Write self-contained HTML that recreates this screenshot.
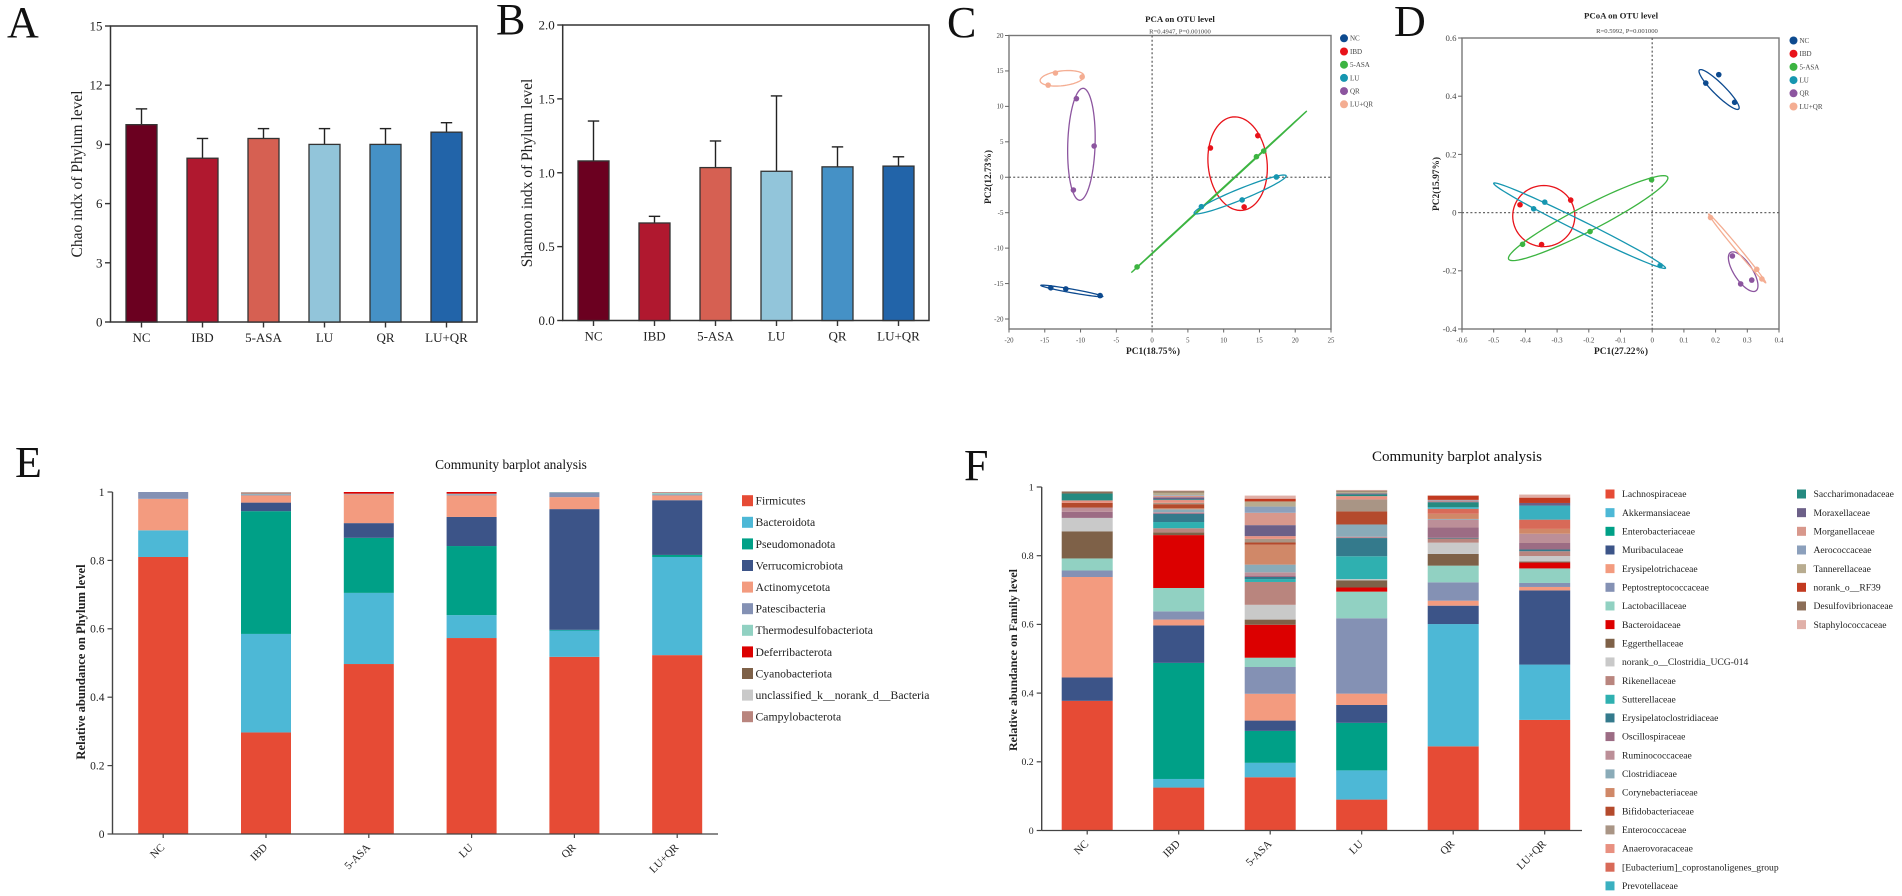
<!DOCTYPE html>
<html lang="en">
<head>
<meta charset="utf-8">
<title>Gut microbiota diversity and community composition</title>
<style>
html,body{margin:0;padding:0;background:#fff;width:1902px;height:896px;overflow:hidden}
svg{display:block;font-family:"Liberation Serif",serif}
text{fill:#222}
.letter{font-size:44px;fill:#111}
.axt{font-size:15.5px}
.sc-t{font-size:8.8px;font-weight:bold}
.sc-r{font-size:6.6px;fill:#444}
.sc-a{font-size:9.4px;font-weight:bold}
.st-t{fill:#111}
.st-a{font-weight:bold}
</style>
</head>
<body>
<svg id="figure" xmlns="http://www.w3.org/2000/svg" width="1902" height="896" viewBox="0 0 1902 896">
  <rect x="0" y="0" width="1902" height="896" fill="#fff"/>
  <text class="letter" x="7" y="37">A</text>
  <text class="letter" x="496" y="34">B</text>
  <text class="letter" x="947" y="37">C</text>
  <text class="letter" x="1394" y="36">D</text>
  <text class="letter" x="15" y="477">E</text>
  <text class="letter" x="964" y="480">F</text>

  <text class="axt" transform="translate(82,174) rotate(-90)" text-anchor="middle">Chao indx of Phylum level</text>
  <text class="axt" transform="translate(532,173) rotate(-90)" text-anchor="middle">Shannon indx of Phylum level</text>

  <text class="sc-t" x="1180" y="22" text-anchor="middle">PCA on OTU level</text>
  <text class="sc-r" x="1180" y="33.5" text-anchor="middle">R=0.4947, P=0.001000</text>
  <text class="sc-a" transform="translate(991,177) rotate(-90)" text-anchor="middle">PC2(12.73%)</text>
  <text class="sc-a" x="1153" y="354" text-anchor="middle">PC1(18.75%)</text>

  <text class="sc-t" x="1621" y="18.5" text-anchor="middle">PCoA on OTU level</text>
  <text class="sc-r" x="1627" y="33" text-anchor="middle">R=0.5992, P=0.001000</text>
  <text class="sc-a" transform="translate(1439,184) rotate(-90)" text-anchor="middle">PC2(15.97%)</text>
  <text class="sc-a" x="1621" y="354" text-anchor="middle">PC1(27.22%)</text>

  <text class="st-t" x="511" y="469" text-anchor="middle" font-size="13.4">Community barplot analysis</text>
  <text class="st-a" transform="translate(85,662) rotate(-90)" text-anchor="middle" font-size="12.6">Relative abundance on Phylum level</text>
  <text class="st-t" x="1457" y="461" text-anchor="middle" font-size="15">Community barplot analysis</text>
  <text class="st-a" transform="translate(1017,660) rotate(-90)" text-anchor="middle" font-size="12">Relative abundance on Family level</text>
</svg>

<script>
// ---------- shared categories ----------
const groups = ['NC', 'IBD', '5-ASA', 'LU', 'QR', 'LU+QR'];

// ---------- panel A ----------
const chaoMeans = [10, 8.3, 9.3, 9, 9, 9.62];
const chaoUpper = [10.8, 9.3, 9.8, 9.8, 9.8, 10.1];
const chaoTicks = ['0', '3', '6', '9', '12', '15'];

// ---------- panel B ----------
const shannonMeans = [1.08, 0.66, 1.035, 1.01, 1.04, 1.045];
const shannonUpper = [1.35, 0.705, 1.215, 1.52, 1.175, 1.108];
const shannonTicks = ['0.0', '0.5', '1.0', '1.5', '2.0'];

// ---------- panel C (PCA) ----------
const pcaX = [[-14.16, -12.06, -7.27], [8.15, 14.77, 12.86], [-2.1, 14.58, 15.6], [6.89, 12.58, 17.37], [-10.58, -8.1, -11], [-14.53, -13.51, -9.78]];
const pcaY = [[-15.6, -15.75, -16.7], [4.13, 5.87, -4.19], [-12.65, 2.9, 3.7], [-4.15, -3.2, 0.04], [11.09, 4.41, -1.8], [13, 14.71, 14.15]];
const pcaEllipseCx = [-11.22, 11.95, 9.36, 12.3, -9.88, -12.58];
const pcaEllipseCy = [-16.04, 1.92, -2.05, -2.43, 4.65, 13.96];
const pcaEllipseAx = [4.33, -0.68, 12.26, 6.43, 0.24, 3.07];
const pcaEllipseAy = [-0.78, 6.59, 11.4, 2.65, 7.9, 0.35];
const pcaEllipseBx = [0.04, 4.1, 0.04, 0.29, 1.91, 0.12];
const pcaEllipseBy = [0.25, 0.44, -0.04, -0.72, -0.06, -1.04];
const pcaXTicks = ['-20', '-15', '-10', '-5', '0', '5', '10', '15', '20', '25'];
const pcaYTicks = ['-20', '-15', '-10', '-5', '0', '5', '10', '15', '20'];

// ---------- panel D (PCoA) ----------
const pcoaX = [[0.169, 0.21, 0.26], [-0.417, -0.257, -0.349], [-0.409, -0.196, -0.002], [-0.374, -0.339, 0.025], [0.253, 0.279, 0.314], [0.184, 0.33, 0.346]];
const pcoaY = [[0.445, 0.474, 0.379], [0.027, 0.043, -0.11], [-0.109, -0.065, 0.113], [0.013, 0.036, -0.182], [-0.149, -0.245, -0.232], [-0.017, -0.195, -0.228]];
const pcoaEllipseCx = [0.211, -0.342, -0.202, -0.229, 0.287, 0.268];
const pcoaEllipseCy = [0.423, -0.012, -0.019, -0.045, -0.203, -0.123];
const pcoaEllipseAx = [0.062, 0.098, 0.251, 0.271, 0.04, 0.09];
const pcoaEllipseAy = [-0.067, 0, 0.141, -0.146, -0.066, -0.118];
const pcoaEllipseBx = [0.013, 0, 0.018, -0.008, 0.024, 0.005];
const pcoaEllipseBy = [0.014, 0.105, -0.038, -0.017, 0.017, 0.004];
const pcoaXTicks = ['-0.6', '-0.5', '-0.4', '-0.3', '-0.2', '-0.1', '0', '0.1', '0.2', '0.3', '0.4'];
const pcoaYTicks = ['-0.4', '-0.2', '0', '0.2', '0.4', '0.6'];

// ---------- panel E (phylum stack) ----------
const phylumNames = ['Firmicutes', 'Bacteroidota', 'Pseudomonadota', 'Verrucomicrobiota', 'Actinomycetota', 'Patescibacteria', 'Thermodesulfobacteriota', 'Deferribacterota', 'Cyanobacteriota', 'unclassified_k__norank_d__Bacteria', 'Campylobacterota'];
const phylumNC = [0.81, 0.078, 0, 0, 0.092, 0.02, 0, 0, 0, 0, 0];
const phylumIBD = [0.297, 0.288, 0.359, 0.025, 0.021, 0.003, 0.003, 0.001, 0.001, 0.001, 0.001];
const phylumASA = [0.497, 0.208, 0.161, 0.043, 0.084, 0.001, 0.001, 0.005, 0, 0, 0];
const phylumLU = [0.573, 0.067, 0.202, 0.085, 0.063, 0.003, 0.002, 0.005, 0, 0, 0];
const phylumQR = [0.518, 0.077, 0.002, 0.353, 0.035, 0.014, 0.001, 0, 0, 0, 0];
const phylumLUQR = [0.523, 0.287, 0.006, 0.16, 0.014, 0.003, 0.004, 0.001, 0.001, 0.001, 0];
const stackTicks = ['0', '0.2', '0.4', '0.6', '0.8', '1'];

// ---------- panel F (family stack) ----------
const familyNames = ['Lachnospiraceae', 'Akkermansiaceae', 'Enterobacteriaceae', 'Muribaculaceae', 'Erysipelotrichaceae', 'Peptostreptococcaceae', 'Lactobacillaceae', 'Bacteroidaceae', 'Eggerthellaceae', 'norank_o__Clostridia_UCG-014', 'Rikenellaceae', 'Sutterellaceae', 'Erysipelatoclostridiaceae', 'Oscillospiraceae', 'Ruminococcaceae', 'Clostridiaceae', 'Corynebacteriaceae', 'Bifidobacteriaceae', 'Enterococcaceae', 'Anaerovoracaceae', '[Eubacterium]_coprostanoligenes_group', 'Prevotellaceae', 'Saccharimonadaceae', 'Moraxellaceae', 'Morganellaceae', 'Aerococcaceae', 'Tannerellaceae', 'norank_o__RF39', 'Desulfovibrionaceae', 'Staphylococcaceae'];
const familyNC = [0.3775, 0, 0, 0.068, 0.2925, 0.019, 0.035, 0, 0.079, 0.039, 0, 0, 0, 0.018, 0.012, 0, 0, 0.014, 0, 0.007, 0, 0, 0.02, 0, 0, 0, 0, 0, 0.006, 0];
const familyIBD = [0.125, 0.025, 0.338, 0.109, 0.017, 0.024, 0.068, 0.154, 0.008, 0, 0.012, 0.018, 0.024, 0.003, 0.002, 0.008, 0.003, 0.012, 0.004, 0.008, 0, 0, 0.002, 0.006, 0.004, 0.002, 0.008, 0, 0.004, 0.002];
const familyASA = [0.155, 0.042, 0.093, 0.03, 0.078, 0.078, 0.027, 0.096, 0.015, 0.043, 0.0665, 0.0085, 0.006, 0.004, 0.0096, 0.0224, 0.058, 0.0065, 0.0105, 0.008, 0, 0, 0, 0.032, 0.036, 0.018, 0.015, 0.008, 0, 0.009];
const familyLU = [0.09, 0.085, 0.1384, 0.052, 0.033, 0.2195, 0.0775, 0.012, 0.021, 0.0035, 0, 0.0665, 0.053, 0, 0.004, 0.0355, 0, 0.038, 0.035, 0.0095, 0, 0, 0.005, 0.003, 0, 0, 0.005, 0, 0.003, 0.002];
const familyQR = [0.245, 0.356, 0, 0.0535, 0.0145, 0.0535, 0.0485, 0, 0.034, 0.033, 0.012, 0, 0.002, 0.03, 0.023, 0.002, 0.015, 0, 0, 0, 0.0145, 0.005, 0.014, 0.002, 0.003, 0.002, 0, 0.012, 0, 0.002];
const familyLUQR = [0.322, 0.161, 0, 0.216, 0.01, 0.0116, 0.0424, 0.017, 0.003, 0.016, 0.014, 0, 0.005, 0.019, 0.027, 0, 0.014, 0, 0, 0, 0.027, 0.041, 0, 0.0075, 0, 0, 0, 0.0155, 0, 0.009];

// ---------- styling (kept apart from the data) ----------
const barColors = ['#6b0020', '#b0182f', '#d66052', '#92c5da', '#4591c6', '#2264a9'];
const groupColors = ['#0d4a8f', '#e8131a', '#3cb441', '#1696b0', '#8c559f', '#f4ad92'];
const phylumColors = ['#e64b35', '#4db8d6', '#00a087', '#3c5488', '#f39b7f', '#8491b4', '#91d1c2', '#dc0000', '#7e6148', '#c9c9c9', '#b9857e'];
const familyColors = ['#e64b35', '#4db8d6', '#00a087', '#3c5488', '#f39b7f', '#8491b4', '#91d1c2', '#dc0000', '#7e6148', '#c9c9c9', '#b9857e', '#2fb0b0', '#347a8c', '#9c6c84', '#bc8f98', '#8aabb8', '#d08868', '#b44a2c', '#a99585', '#e89080', '#d86a58', '#3ab0c0', '#258a80', '#6c6088', '#d8988c', '#8ca0bc', '#b8ac90', '#c23a20', '#8c6e58', '#e0b0a8'];

// ---------- helpers ----------
const SVG_NS = 'http://www.w3.org/2000/svg';
const root = document.getElementById('figure');
function make(parent, tag, attrs, text) {
  const node = document.createElementNS(SVG_NS, tag);
  for (const k in attrs) node.setAttribute(k, attrs[k]);
  if (text !== undefined) node.textContent = text;
  parent.appendChild(node);
  return node;
}
function linear(d0, d1, r0, r1) {
  return function (v) { return r0 + (v - d0) * (r1 - r0) / (d1 - d0); };
}
function slug(s) {
  return String(s).toLowerCase().replace(/[^a-z0-9]+/g, '-').replace(/^-|-$/g, '');
}
function line(parent, x1, y1, x2, y2, color, width, dash) {
  const a = { x1: x1, y1: y1, x2: x2, y2: y2, stroke: color, 'stroke-width': width };
  if (dash) a['stroke-dasharray'] = dash;
  return make(parent, 'line', a);
}

// ---------- bar + error panels ----------
function drawBarPanel(prefix, means, upper, ticks, g) {
  const y = linear(Number(ticks[0]), Number(ticks[ticks.length - 1]), g.bottom, g.top);
  const panel = make(root, 'g', {});
  
  
  const frame = make(panel, 'rect', { x: g.left, y: g.top, width: g.right - g.left, height: g.bottom - g.top, fill: 'none', stroke: '#333', 'stroke-width': 1.5 });
  
  
  ticks.forEach(function (t) {
    const py = y(Number(t));
    const tick = line(panel, g.left - 5.5, py, g.left, py, '#333', 1.4);
    
    
    const lab = make(panel, 'text', { x: g.left - 8, y: py + 4.5, 'text-anchor': 'end', 'font-size': 13 }, t);
    
    
  });
  groups.forEach(function (name, i) {
    const cx = g.first + i * g.step;
    const err = line(panel, cx, y(means[i]), cx, y(upper[i]), '#222', 1.4);
    
    
    const cap = line(panel, cx - 5.7, y(upper[i]), cx + 5.7, y(upper[i]), '#222', 1.4);
    
    
    const bar = make(panel, 'rect', { x: cx - g.width / 2, y: y(means[i]), width: g.width, height: y(0) - y(means[i]), fill: barColors[i], stroke: '#333', 'stroke-width': 1.3 });
    
    
    const tick = line(panel, cx, g.bottom, cx, g.bottom + 5.5, '#333', 1.4);
    
    
    const lab = make(panel, 'text', { x: cx, y: g.bottom + 20, 'text-anchor': 'middle', 'font-size': 13 }, name);
    
    
  });
}
drawBarPanel('chao', chaoMeans, chaoUpper, chaoTicks, { left: 110.5, right: 477, top: 26, bottom: 322, first: 141.5, step: 61, width: 31 });
drawBarPanel('shannon', shannonMeans, shannonUpper, shannonTicks, { left: 562.7, right: 929, top: 25, bottom: 320.5, first: 593.5, step: 61, width: 31 });

// ---------- ordination panels ----------
function drawScatterPanel(prefix, xs, ys, ell, xTicks, yTicks, g) {
  const x = linear(g.xd0, g.xd1, g.left, g.right);
  const y = linear(g.yd0, g.yd1, g.yr0, g.yr1);
  const panel = make(root, 'g', {});
  
  
  const frame = make(panel, 'rect', { x: g.left, y: g.top, width: g.right - g.left, height: g.bottom - g.top, fill: 'none', stroke: '#777', 'stroke-width': 1.4 });
  
  
  const h0 = line(panel, g.left, y(0), g.right, y(0), '#666', 1.3, '2 2.2');
  
  
  const v0 = line(panel, x(0), g.top, x(0), g.bottom, '#666', 1.3, '2 2.2');
  
  
  xTicks.forEach(function (t) {
    const px = x(Number(t));
    const tick = line(panel, px, g.bottom, px, g.bottom + 3.5, '#666', 1);
    
    
    const lab = make(panel, 'text', { x: px, y: g.bottom + 13.5, 'text-anchor': 'middle', 'font-size': g.tickFont, style: 'fill:#444' }, t);
    
    
  });
  yTicks.forEach(function (t) {
    const py = y(Number(t));
    const tick = line(panel, g.left - 4, py, g.left, py, '#666', 1);
    
    
    const lab = make(panel, 'text', { x: g.left - 5.5, y: py + g.yTickFont * 0.33, 'text-anchor': 'end', 'font-size': g.yTickFont, style: 'fill:#444' }, t);
    
    
  });
  groups.forEach(function (name, i) {
    let d = '';
    for (let k = 0; k <= 72; k++) {
      const t = k / 72 * 2 * Math.PI;
      const dx = ell.cx[i] + ell.ax[i] * Math.cos(t) + ell.bx[i] * Math.sin(t);
      const dy = ell.cy[i] + ell.ay[i] * Math.cos(t) + ell.by[i] * Math.sin(t);
      d += (k ? 'L' : 'M') + x(dx).toFixed(2) + ' ' + y(dy).toFixed(2);
    }
    const path = make(panel, 'path', { d: d + 'Z', fill: 'none', stroke: groupColors[i], 'stroke-width': 1.3 });
    
    
    xs[i].forEach(function (v, j) {
      const c = make(panel, 'circle', { cx: x(v), cy: y(ys[i][j]), r: 2.8, fill: groupColors[i] });
      
      
    });
    const dot = make(panel, 'circle', { cx: g.legendX, cy: g.legendY + i * g.legendStep, r: 4, fill: groupColors[i] });
    
    
    const lab = make(panel, 'text', { x: g.legendX + 6, y: g.legendY + i * g.legendStep + 2.4, 'font-size': 7, style: 'fill:#444' }, name);
    
    
  });
}
drawScatterPanel('pca', pcaX, pcaY,
  { cx: pcaEllipseCx, cy: pcaEllipseCy, ax: pcaEllipseAx, ay: pcaEllipseAy, bx: pcaEllipseBx, by: pcaEllipseBy },
  pcaXTicks, pcaYTicks,
  { left: 1009, right: 1331, top: 35.5, bottom: 329, xd0: -20, xd1: 25, yd0: -20, yd1: 20, yr0: 319, yr1: 35.5, tickFont: 6.8, yTickFont: 7, legendX: 1344, legendY: 38.3, legendStep: 13.2 });
drawScatterPanel('pcoa', pcoaX, pcoaY,
  { cx: pcoaEllipseCx, cy: pcoaEllipseCy, ax: pcoaEllipseAx, ay: pcoaEllipseAy, bx: pcoaEllipseBx, by: pcoaEllipseBy },
  pcoaXTicks, pcoaYTicks,
  { left: 1462, right: 1779, top: 38, bottom: 329, xd0: -0.6, xd1: 0.4, yd0: -0.4, yd1: 0.6, yr0: 329, yr1: 38, tickFont: 7, yTickFont: 8.8, legendX: 1793.5, legendY: 40.5, legendStep: 13.2 });

// ---------- stacked panels ----------
function drawStackPanel(prefix, rows, names, colors, g) {
  const y = linear(0, 1, g.bottom, g.top);
  const panel = make(root, 'g', {});
  
  
  rows.forEach(function (row, i) {
    const cx = g.first + i * g.step;
    let cum = 0;
    row.forEach(function (v, s) {
      if (v > 0) {
        const seg = make(panel, 'rect', { x: cx - g.width / 2, y: y(cum + v), width: g.width, height: y(cum) - y(cum + v), fill: colors[s] });
        
        
      }
      cum += v;
    });
    const tick = line(panel, cx, g.bottom, cx, g.bottom + 4, '#444', 1.2);
    
    
    const lx = cx + 2;
    const ly = g.bottom + 14;
    const lab = make(panel, 'text', { transform: 'translate(' + lx + ',' + ly + ') rotate(-45)', 'text-anchor': 'end', 'font-size': g.xFont }, groups[i]);
    
    
  });
  const yAxis = line(panel, g.left, g.top, g.left, g.bottom, '#444', 1.4);
  
  
  const xAxis = line(panel, g.left, g.bottom, g.axisEnd, g.bottom, '#444', 1.2);
  
  
  stackTicks.forEach(function (t) {
    const py = y(Number(t));
    const tick = line(panel, g.left - 5, py, g.left, py, '#444', 1.2);
    
    
    const lab = make(panel, 'text', { x: g.left - 8, y: py + g.yFont * 0.34, 'text-anchor': 'end', 'font-size': g.yFont }, t);
    
    
  });
  names.forEach(function (name, s) {
    const col = s < g.perColumn ? 0 : 1;
    const row = col ? s - g.perColumn : s;
    const ly = g.legendY + row * g.legendStep;
    const lx = g.legendX[col];
    const sw = make(panel, 'rect', { x: lx, y: ly - g.swatch / 2, width: g.swatch, height: g.swatch, fill: colors[s] });
    
    
    const lab = make(panel, 'text', { x: lx + g.textGap, y: ly + g.legendFont * 0.33, 'font-size': g.legendFont }, name);
    
    
  });
}
drawStackPanel('phylum', [phylumNC, phylumIBD, phylumASA, phylumLU, phylumQR, phylumLUQR], phylumNames, phylumColors,
  { left: 112.5, axisEnd: 718, top: 492, bottom: 834, first: 163.2, step: 102.8, width: 50, xFont: 11, yFont: 11.5, perColumn: 99, legendX: [742], legendY: 500.7, legendStep: 21.6, swatch: 11, textGap: 13.5, legendFont: 11.7 });
drawStackPanel('family', [familyNC, familyIBD, familyASA, familyLU, familyQR, familyLUQR], familyNames, familyColors,
  { left: 1041.7, axisEnd: 1582, top: 487, bottom: 830.5, first: 1087.2, step: 91.5, width: 51, xFont: 11, yFont: 9.8, perColumn: 22, legendX: [1605.5, 1797], legendY: 494, legendStep: 18.66, swatch: 9, textGap: 16.5, legendFont: 9.6 });
</script>
</body>
</html>
